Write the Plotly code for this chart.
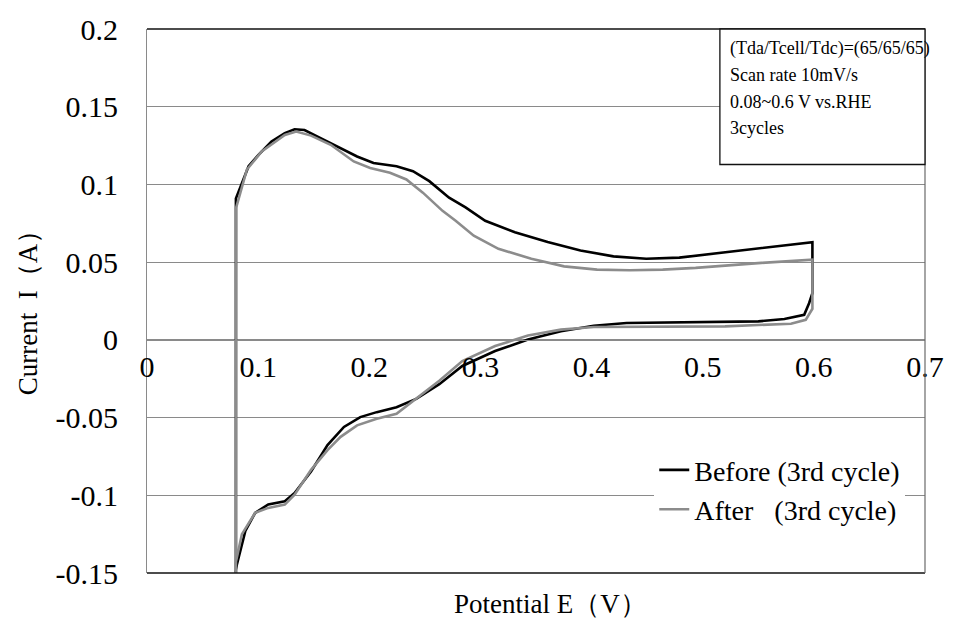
import plotly.graph_objects as go

# Before (3rd cycle): potential (V) and current (A), one closed CV loop
before_v = [0.0800, 0.0800, 0.0914, 0.1003, 0.1120, 0.1240, 0.1328, 0.1417, 0.1535, 0.1713,
            0.1890, 0.2038, 0.2245, 0.2393, 0.2540, 0.2718, 0.2866, 0.3043, 0.3310, 0.3605,
            0.3900, 0.4197, 0.4492, 0.4789, 0.5084, 0.5380, 0.5676, 0.5987, 0.5987, 0.5957,
            0.5913, 0.5735, 0.5500, 0.4907, 0.4315, 0.4020, 0.3724, 0.3428, 0.3132, 0.2837,
            0.2630, 0.2422, 0.2245, 0.2067, 0.1919, 0.1772, 0.1624, 0.1476, 0.1328, 0.1240,
            0.1091, 0.0973, 0.0885, 0.0810, 0.0796]
before_i = [-0.150, 0.091, 0.1117, 0.119, 0.1276, 0.133, 0.1355, 0.135, 0.1308, 0.1244,
            0.118, 0.1138, 0.1117, 0.1085, 0.1021, 0.0915, 0.0852, 0.0766, 0.0692, 0.0629,
            0.0575, 0.0537, 0.0522, 0.0529, 0.0554, 0.058, 0.0601, 0.0629, 0.030, 0.0236,
            0.0161, 0.0134, 0.0119, 0.0115, 0.0108, 0.0091, 0.0055, 0.0002, -0.0072, -0.0168,
            -0.0285, -0.038, -0.0433, -0.0465, -0.0497, -0.056, -0.0677, -0.0847, -0.0985, -0.1038,
            -0.1059, -0.1113, -0.1229, -0.1441, -0.1495]

# After (3rd cycle)
after_v = [0.0800, 0.0802, 0.0899, 0.1032, 0.1240, 0.1343, 0.1476, 0.1653, 0.1860, 0.2008,
           0.2186, 0.2334, 0.2482, 0.2659, 0.2777, 0.2940, 0.3162, 0.3458, 0.3753, 0.4049,
           0.4345, 0.4640, 0.4936, 0.5232, 0.5528, 0.5987, 0.5987, 0.5927, 0.5794, 0.5202,
           0.4611, 0.4020, 0.3724, 0.3428, 0.3132, 0.2837, 0.2630, 0.2422, 0.2245, 0.2067,
           0.1890, 0.1742, 0.1624, 0.1476, 0.1328, 0.1240, 0.1091, 0.0973, 0.0854, 0.0796,
           0.0796]
after_i = [-0.150, 0.085, 0.1096, 0.1212, 0.1318, 0.134, 0.1314, 0.1255, 0.1148, 0.1106,
           0.1075, 0.1032, 0.0947, 0.083, 0.0766, 0.067, 0.0586, 0.0522, 0.0473, 0.0452,
           0.0448, 0.0452, 0.0463, 0.048, 0.0495, 0.0516, 0.020, 0.0129, 0.0104, 0.0087,
           0.0087, 0.0083, 0.0066, 0.0028, -0.004, -0.0136, -0.0263, -0.0375, -0.0476, -0.0508,
           -0.055, -0.0624, -0.0709, -0.0836, -0.0996, -0.106, -0.1081, -0.1113, -0.125, -0.1441,
           -0.150]

x_ticks = [0, 0.1, 0.2, 0.3, 0.4, 0.5, 0.6, 0.7]
x_labels = ["0", "0.1", "0.2", "0.3", "0.4", "0.5", "0.6", "0.7"]
y_ticks = [0.2, 0.15, 0.1, 0.05, 0, -0.05, -0.1, -0.15]
y_labels = ["0.2", "0.15", "0.1", "0.05", "0", "-0.05", "-0.1", "-0.15"]

info_lines = ["(Tda/Tcell/Tdc)=(65/65/65)", "Scan rate 10mV/s", "0.08~0.6 V vs.RHE", "3cycles"]

FONT = "'Liberation Serif', 'Times New Roman', Times, serif"
GRID = "#8a8a8a"

fig = go.Figure()
fig.add_trace(go.Scatter(x=before_v, y=before_i, mode="lines", name="Before (3rd cycle)",
                         line=dict(color="#000000", width=2.6)))
fig.add_trace(go.Scatter(x=after_v, y=after_i, mode="lines", name="After   (3rd cycle)",
                         line=dict(color="#8c8c8c", width=2.6)))

fig.update_layout(
    width=956, height=630,
    margin=dict(l=147, r=20, t=23, b=57),
    paper_bgcolor="white", plot_bgcolor="white",
    font=dict(family=FONT, size=26, color="black"),
    showlegend=True,
    legend=dict(x=0.652, y=0.235, xanchor="left", yanchor="top",
                bgcolor="white", borderwidth=0, itemwidth=30,
                font=dict(family=FONT, size=28), tracegroupgap=0),
    xaxis=dict(range=[0, 0.7], tickvals=x_ticks, ticktext=x_labels,
               showgrid=False, zeroline=False, showline=True, linecolor=GRID, linewidth=1,
               anchor="free", position=0.15 / 0.35, ticks="", ticklabelstandoff=0,
               tickfont=dict(family=FONT, size=30)),
    yaxis=dict(range=[-0.15, 0.2], tickvals=y_ticks, ticktext=y_labels,
               showgrid=True, gridcolor=GRID, gridwidth=1, zeroline=False,
               showline=True, linecolor=GRID, linewidth=1, ticks="", ticklabelstandoff=22,
               tickfont=dict(family=FONT, size=30)),
)

# plot-area frame (top/bottom dark, right gray)
fig.add_shape(type="line", xref="paper", yref="paper", x0=0, x1=1, y0=1, y1=1,
              line=dict(color="#111111", width=1.5))
fig.add_shape(type="line", xref="paper", yref="paper", x0=0, x1=1, y0=0, y1=0,
              line=dict(color="#111111", width=1.5))
fig.add_shape(type="line", xref="paper", yref="paper", x0=1, x1=1, y0=0, y1=1,
              line=dict(color="#6a6a6a", width=1.2))

# axis titles
fig.add_annotation(text="Potential E\uff08V\uff09", xref="paper", yref="paper", x=0.518, y=-0.025,
                   xanchor="center", yanchor="top", showarrow=False,
                   font=dict(family=FONT, size=27))
fig.add_annotation(text="Current  I\uff08A\uff09", xref="paper", yref="paper", x=-0.152, y=0.49,
                   xanchor="center", yanchor="middle", textangle=-90, showarrow=False,
                   font=dict(family=FONT, size=27))

# info box: frame + one annotation per line
fig.add_shape(type="rect", xref="paper", yref="paper", x0=(728 - 147) / 789, x1=1,
              y0=(573 - 160) / 550, y1=1, fillcolor="white",
              line=dict(color="#111111", width=1.3), layer="above")
line_px = [43, 70, 97, 123]
for txt, py in zip(info_lines, line_px):
    fig.add_annotation(text=txt, xref="paper", yref="paper", x=(736 - 147) / 789,
                       y=(573 - py) / 550, xanchor="left", yanchor="middle", showarrow=False,
                       align="left", font=dict(family=FONT, size=18))

fig.write_html("out.html")
